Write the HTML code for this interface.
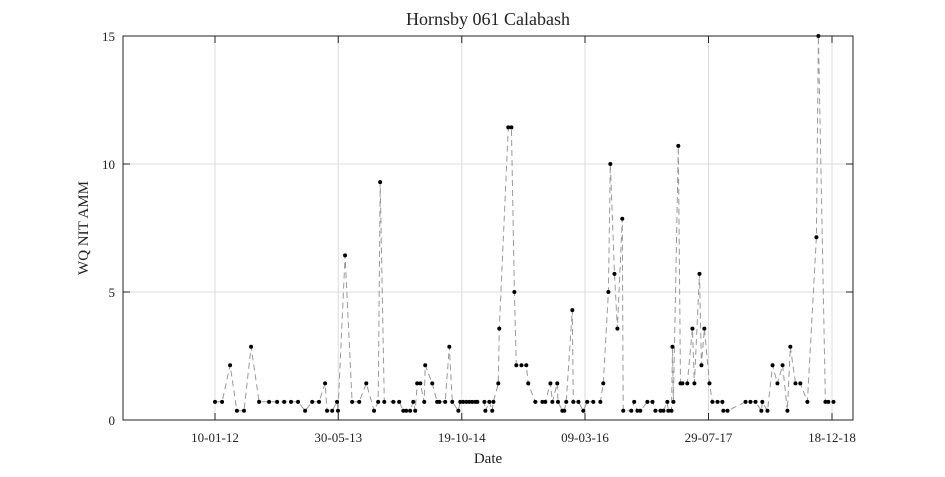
<!DOCTYPE html>
<html><head><meta charset="utf-8"><style>
body{margin:0;background:#fff}
svg text{font-family:"Liberation Serif",serif;fill:#222}
</style></head><body>
<svg id="chart" width="945" height="472" xmlns="http://www.w3.org/2000/svg">
<text x="488" y="25" font-size="18" text-anchor="middle">Hornsby 061 Calabash</text>
<text x="488" y="463" font-size="15" text-anchor="middle">Date</text>
<text x="88" y="228" font-size="15" text-anchor="middle" transform="rotate(-90 88 228)">WQ NIT AMM</text>
<g id="grid"></g><g id="series"></g><g id="axes"></g>
</svg>
<script>
const days=[0,29,62,90,119,148,181,222,255,284,312,341,370,399,427,452,460,481,501,505,534,563,592,621,653,670,678,695,732,756,773,785,801,814,822,830,843,859,863,892,912,921,945,962,974,999,1007,1019,1032,1044,1056,1069,1077,1106,1110,1126,1138,1143,1163,1167,1204,1217,1229,1237,1258,1278,1286,1315,1344,1356,1377,1385,1405,1408,1426,1434,1442,1467,1471,1492,1512,1528,1553,1582,1594,1615,1623,1640,1652,1672,1676,1709,1721,1734,1746,1775,1796,1808,1829,1841,1857,1861,1874,1878,1882,1902,1911,1919,1939,1960,1968,1989,1997,2009,2030,2042,2063,2083,2087,2104,2178,2198,2219,2243,2247,2268,2289,2309,2330,2350,2362,2383,2403,2432,2469,2477,2506,2518,2539];
const values=[.71,.71,2.14,.36,.36,2.86,.71,.71,.71,.71,.71,.71,.36,.71,.71,1.43,.36,.36,.71,.36,6.43,.71,.71,1.43,.36,.71,9.29,.71,.71,.71,.36,.36,.36,.71,.36,1.43,1.43,.71,2.14,1.43,.71,.71,.71,2.86,.71,.36,.71,.71,.71,.71,.71,.71,.71,.71,.36,.71,.36,.71,1.43,3.57,11.43,11.43,5.0,2.14,2.14,2.14,1.43,.71,.71,.71,1.43,.71,1.43,.71,.36,.36,.71,4.29,.71,.71,.36,.71,.71,.71,1.43,5.0,10,5.71,3.57,7.86,.36,.36,.71,.36,.36,.71,.71,.36,.36,.36,.71,.36,.36,2.86,.71,10.71,1.43,1.43,1.43,3.57,1.43,5.71,2.14,3.57,1.43,.71,.71,.71,.36,.36,.71,.71,.71,.36,.71,.36,2.14,1.43,2.14,.36,2.86,1.43,1.43,.71,7.14,15,.71,.71,.71];
const xTickDays=[0,506,1013,1519,2026,2533];
const xTickLabels=["10-01-12","30-05-13","19-10-14","09-03-16","29-07-17","18-12-18"];
const yTicks=[0,5,10,15];
const NS="http://www.w3.org/2000/svg";
const L=123,R=853,T=36,B=420;
const xs=d=>215+d*(832-215)/2533;
const ys=v=>B-(v/15)*(B-T);
function mk(tag,attrs,parent){const e=document.createElementNS(NS,tag);for(const k in attrs)e.setAttribute(k,attrs[k]);document.getElementById(parent).appendChild(e);return e;}
xTickDays.forEach((d,i)=>{
 const x=xs(d);
 const g=mk('line',{x1:x,x2:x,y1:T,y2:B,stroke:'#dcdcdc','stroke-width':1},'grid');
 
 
 const t=mk('line',{x1:x,x2:x,y1:B,y2:B-7,stroke:'#222'},'axes');
 
 
 const t2=mk('line',{x1:x,x2:x,y1:T,y2:T+7,stroke:'#222'},'axes');
 
 
 const lb=mk('text',{x:x,y:B+22,'font-size':13,'text-anchor':'middle'},'axes');
 lb.textContent=xTickLabels[i];
 
 
});
yTicks.forEach(v=>{
 const y=ys(v);
 const g=mk('line',{x1:L,x2:R,y1:y,y2:y,stroke:'#dcdcdc','stroke-width':1},'grid');
 
 
 const t=mk('line',{x1:L,x2:L+7,y1:y,y2:y,stroke:'#222'},'axes');
 
 
 const t2=mk('line',{x1:R,x2:R-7,y1:y,y2:y,stroke:'#222'},'axes');
 
 
 const lb=mk('text',{x:L-8,y:y+5,'font-size':13,'text-anchor':'end'},'axes');
 lb.textContent=String(v);
 
 
});
const box=mk('rect',{x:L,y:T,width:R-L,height:B-T,fill:'none',stroke:'#222','stroke-width':1},'axes');


const pts=days.map((d,i)=>xs(d).toFixed(1)+','+ys(values[i]).toFixed(1)).join(' ');
const line=mk('polyline',{points:pts,fill:'none',stroke:'#999','stroke-width':1,'stroke-dasharray':'6,4'},'series');


days.forEach((d,i)=>{
 const c=mk('circle',{cx:xs(d),cy:ys(values[i]),r:2,fill:'#000'},'series');
 
 
});
</script>
</body></html>
